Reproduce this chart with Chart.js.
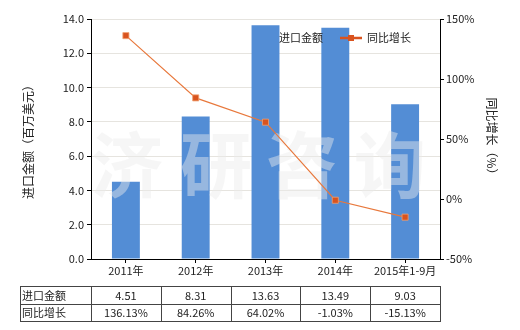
<!DOCTYPE html>
<html>
<head>
<meta charset="utf-8">
<script src="https://cdn.jsdelivr.net/npm/chart.js@4/dist/chart.umd.min.js"></script>
<style>
  html, body { margin: 0; padding: 0; background: #fff; }
  #wrap { width: 520px; height: 330px; }
</style>
</head>
<body>
<div id="wrap"><canvas id="chart" width="520" height="330"></canvas></div>
<script>
(function(){
  'use strict';

  // data
  const categories = ['2011年', '2012年', '2013年', '2014年', '2015年1-9月'];
  const importValues = [4.51, 8.31, 13.63, 13.49, 9.03];
  const growthRates = [136.13, 84.26, 64.02, -1.03, -15.13];
  const seriesNames = ['进口金额', '同比增长'];

  const FONT = '"Noto Sans CJK SC", "Noto Sans", sans-serif';
  const barColor = '#538dd5';
  const lineColor = '#e8783c';
  const markerColor = '#d9531e';
  const textColor = '#222';

  // watermark goes between the bars and the line
  const watermark = {
    id: 'watermark',
    afterDatasetDraw(chart, args) {
      if (args.index !== 0) return;
      const ctx = chart.ctx;
      const area = chart.chartArea;
      ctx.save();
      ctx.beginPath();
      ctx.rect(area.left, area.top, area.right - area.left, area.bottom - area.top);
      ctx.clip();
      ctx.font = 'bold 72px ' + FONT;
      ctx.fillStyle = 'rgba(236,236,236,0.45)';
      ctx.textAlign = 'center';
      ctx.textBaseline = 'middle';
      const chars = ['济', '研', '咨', '询'];
      const xs = [127, 216, 302, 390];
      chars.forEach((c, i) => ctx.fillText(c, xs[i], 165));
      ctx.restore();
    }
  };

  // legend inside the plot, top right
  const legendBox = {
    id: 'legendBox',
    afterDraw(chart) {
      const ctx = chart.ctx;
      const y = 38;
      ctx.save();
      ctx.font = '11px ' + FONT;
      ctx.fillStyle = textColor;
      ctx.textBaseline = 'middle';
      ctx.fillStyle = barColor;
      ctx.fillRect(266, y - 4, 9, 9);
      ctx.fillStyle = textColor;
      ctx.fillText(seriesNames[0], 279, y);

      ctx.strokeStyle = markerColor;
      ctx.lineWidth = 2.5;
      ctx.beginPath();
      ctx.moveTo(340, y);
      ctx.lineTo(362, y);
      ctx.stroke();
      ctx.fillStyle = markerColor;
      ctx.fillRect(348, y - 3, 6, 6);
      ctx.fillStyle = textColor;
      ctx.fillText(seriesNames[1], 367, y);
      ctx.restore();
    }
  };

  // data table under the x axis
  const dataTable = {
    id: 'dataTable',
    afterDraw(chart) {
      const ctx = chart.ctx;
      const xScale = chart.scales.x;
      const step = xScale.getPixelForValue(1) - xScale.getPixelForValue(0);
      const left = 20;
      const firstCol = xScale.getPixelForValue(0) - step / 2;
      const right = xScale.getPixelForValue(categories.length - 1) + step / 2;
      const rows = [286, 303.5, 321];

      ctx.save();
      ctx.strokeStyle = '#444';
      ctx.lineWidth = 1;
      ctx.beginPath();
      rows.forEach(r => {
        ctx.moveTo(left, Math.round(r) + 0.5);
        ctx.lineTo(right, Math.round(r) + 0.5);
      });
      ctx.moveTo(left + 0.5, rows[0]);
      ctx.lineTo(left + 0.5, rows[2] + 1);
      for (let i = 0; i <= categories.length; i++) {
        const x = Math.round(firstCol + i * step) + 0.5;
        ctx.moveTo(x, rows[0]);
        ctx.lineTo(x, rows[2] + 1);
      }
      ctx.stroke();

      ctx.font = '11px ' + FONT;
      ctx.fillStyle = textColor;
      ctx.textBaseline = 'middle';
      ctx.textAlign = 'left';
      ctx.fillText(seriesNames[0], 22, (rows[0] + rows[1]) / 2 + 1);
      ctx.fillText(seriesNames[1], 22, (rows[1] + rows[2]) / 2 + 1);
      ctx.textAlign = 'center';
      categories.forEach((c, i) => {
        const x = xScale.getPixelForValue(i);
        ctx.fillText(importValues[i].toFixed(2), x, (rows[0] + rows[1]) / 2 + 1);
        ctx.fillText(growthRates[i].toFixed(2) + '%', x, (rows[1] + rows[2]) / 2 + 1);
      });
      ctx.restore();
    }
  };

  let canvas = document.getElementById('chart');

  new Chart(canvas, {
    data: {
      labels: categories,
      datasets: [
        {
          type: 'bar',
          label: seriesNames[0],
          data: importValues,
          backgroundColor: barColor,
          yAxisID: 'y',
          categoryPercentage: 1,
          barPercentage: 0.4,
          order: 2
        },
        {
          type: 'line',
          label: seriesNames[1],
          data: growthRates,
          borderColor: lineColor,
          borderWidth: 1.2,
          pointStyle: 'rect',
          pointRadius: 4.3,
          pointBackgroundColor: markerColor,
          pointBorderColor: '#f0a070',
          pointBorderWidth: 0.8,
          yAxisID: 'y1',
          order: 1
        }
      ]
    },
    options: {
      responsive: false,
      animation: false,
      devicePixelRatio: 1,
      layout: { padding: { top: 19, left: 0, right: 0, bottom: 0 } },
      plugins: {
        legend: { display: false },
        tooltip: { enabled: false }
      },
      scales: {
        x: {
          offset: true,
          grid: { offset: false, drawOnChartArea: false, tickLength: 4, tickColor: '#000' },
          border: { color: '#000' },
          ticks: { color: textColor, font: { family: FONT, size: 11 }, padding: 1, maxRotation: 0 },
          afterFit(s) { s.height = 71; }
        },
        y: {
          position: 'left',
          min: 0,
          max: 14,
          ticks: {
            stepSize: 2,
            color: textColor,
            font: { family: FONT, size: 11 },
            padding: 3,
            callback: v => v.toFixed(1)
          },
          grid: { color: '#e6e4df', tickColor: '#000', tickLength: 4 },
          border: { color: '#000' },
          title: {
            display: true,
            text: '进口金额（百万美元）',
            color: textColor,
            font: { family: FONT, size: 12 },
            padding: { top: 21, bottom: 0 }
          },
          afterFit(s) { s.width = 91; }
        },
        y1: {
          position: 'right',
          min: -50,
          max: 150,
          ticks: {
            stepSize: 50,
            color: textColor,
            font: { family: FONT, size: 11 },
            padding: 2,
            callback: v => v + '%'
          },
          grid: { drawOnChartArea: false, tickColor: '#000', tickLength: 4 },
          border: { color: '#000' },
          title: {
            display: true,
            text: '同比增长（%）',
            color: textColor,
            font: { family: FONT, size: 12 },
            padding: { top: 21, bottom: 0 }
          },
          afterFit(s) { s.width = 80; }
        }
      }
    },
    plugins: [watermark, legendBox, dataTable]
  });
})();
</script>
</body>
</html>
